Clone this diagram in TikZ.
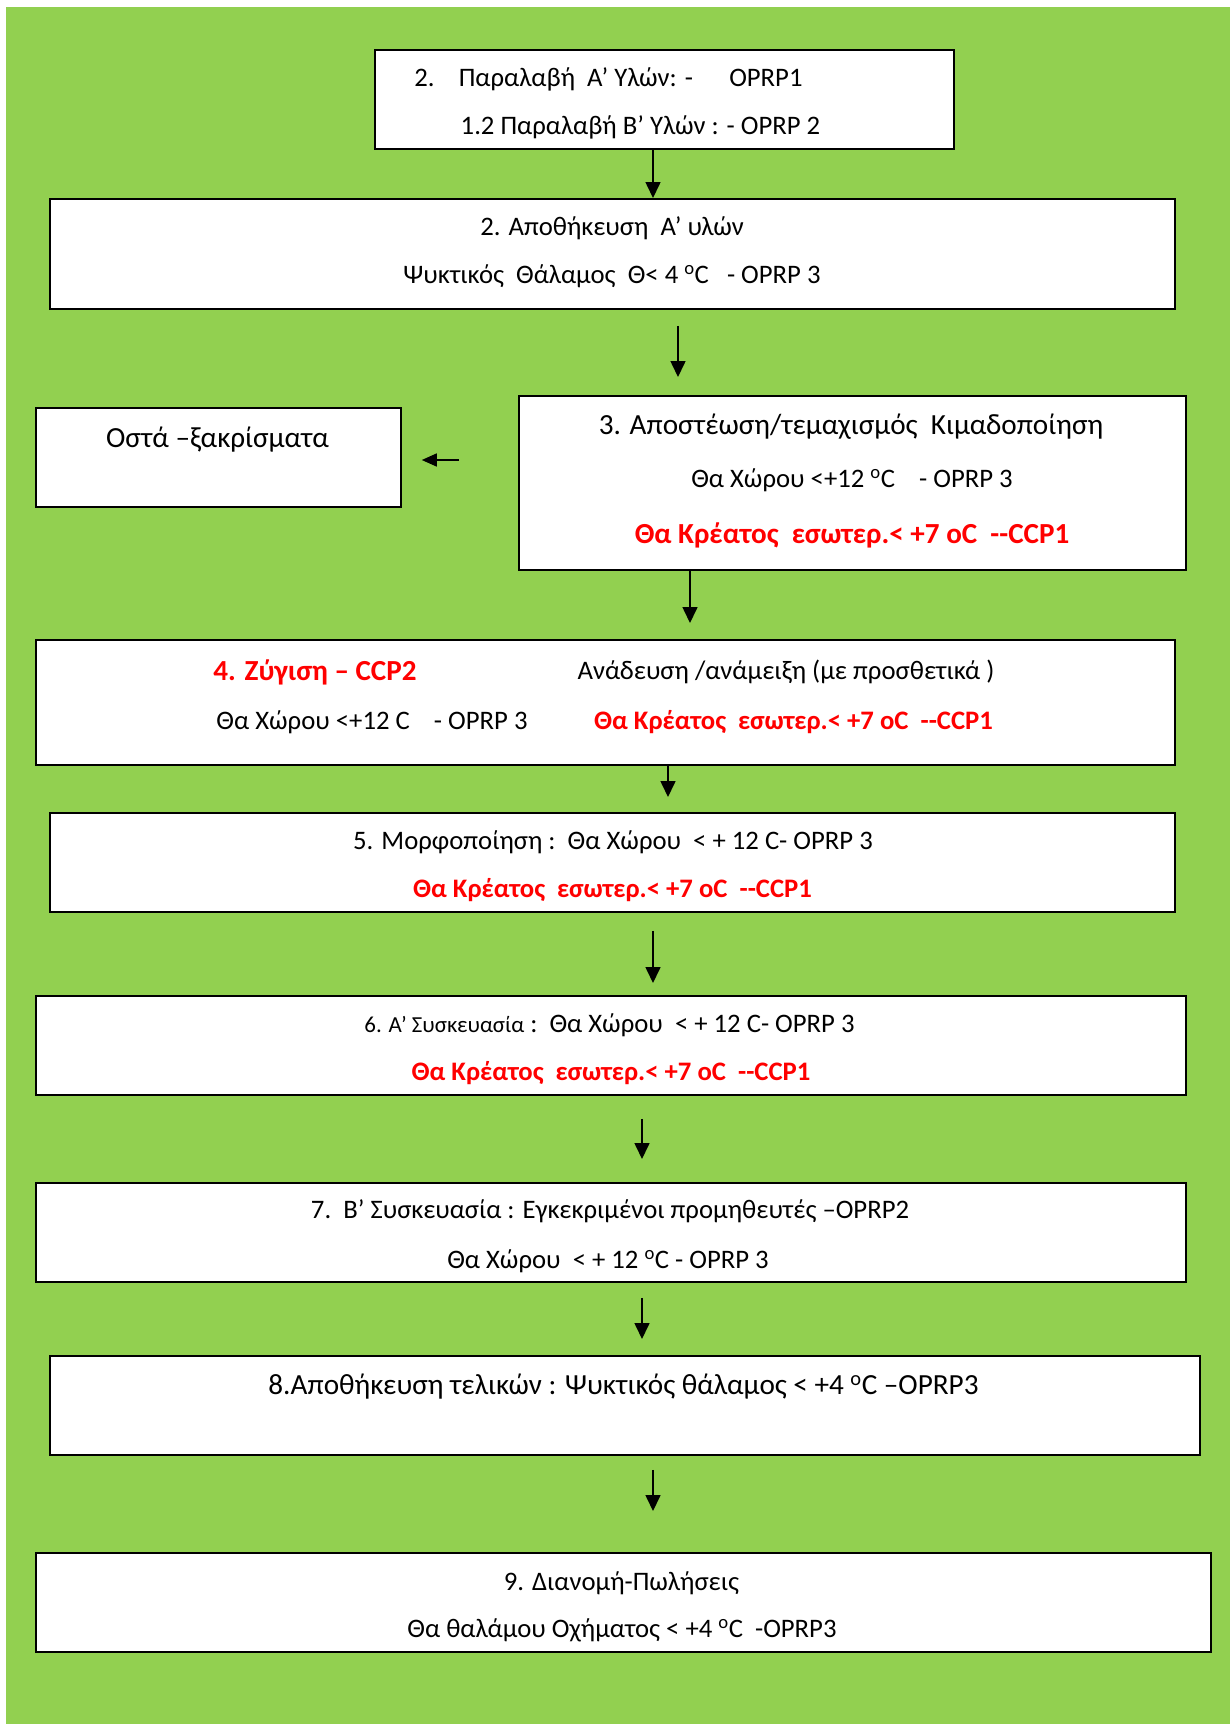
\documentclass[tikz,border=0pt]{standalone}
\usepackage{fontspec}
\setmainfont{Carlito}
\usetikzlibrary{arrows.meta}
\definecolor{bggreen}{HTML}{92D050}
\definecolor{ccpred}{HTML}{FF0000}
\newcommand{\nrm}{\fontsize{26.8}{31}\selectfont}
\newcommand{\bigf}{\fontsize{29.3}{34}\selectfont}
\newcommand{\smf}{\fontsize{23}{27}\selectfont}
\newcommand{\redf}{\fontsize{26.8}{31}\selectfont\bfseries\color{ccpred}}
\newcommand{\redbig}{\fontsize{29.2}{34}\selectfont\bfseries\color{ccpred}}
\newcommand{\dg}{\textsuperscript{o}}
\begin{document}
\begin{tikzpicture}[x=1bp,y=-1bp,
  box/.style={draw=black,line width=1.8bp,fill=white,anchor=north west,inner sep=0pt},
  txt/.style={inner sep=0pt,font=\nrm},
  arr/.style={draw=black,line width=1.6bp,-{Triangle[width=15bp,length=16bp]}}]
\useasboundingbox (0,0) rectangle (1230,1724);
\fill[white] (0,0) rectangle (1230,1724);
\fill[bggreen] (6,7) rectangle (1230,1724);
% boxes
\node[box,minimum width=579bp,minimum height=99bp] (b1) at (374,49) {};
\node[box,minimum width=1125bp,minimum height=110bp] (b2) at (49,198) {};
\node[box,minimum width=365bp,minimum height=99bp] (bo) at (35,407) {};
\node[box,minimum width=667bp,minimum height=174bp] (b3) at (518,395) {};
\node[box,minimum width=1139bp,minimum height=125bp] (b4) at (35,639) {};
\node[box,minimum width=1125bp,minimum height=99bp] (b5) at (49,812) {};
\node[box,minimum width=1150bp,minimum height=99bp] (b6) at (35,995) {};
\node[box,minimum width=1150bp,minimum height=99bp] (b7) at (35,1182) {};
\node[box,minimum width=1150bp,minimum height=99bp] (b8) at (49,1355) {};
\node[box,minimum width=1175bp,minimum height=99bp] (b9) at (35,1552) {};
% texts
\node[txt] (t1a) at (608.5,79) {2.\ \ \ \ Παραλαβή\ \ Α’ Υλών: -\ \ \ \ \ \ OPRP1};
\node[txt] (t1b) at (640.5,127) {1.2 Παραλαβή Β’ Υλών : - OPRP 2};
\node[txt] (t2a) at (612,228) {2. Αποθήκευση\ \ Α’ υλών};
\node[txt] (t2b) at (612,276) {Ψυκτικός\ \ Θάλαμος\ \ Θ< 4 \dg C\ \ \ - OPRP 3};
\node[txt,font=\bigf] (to) at (217.5,440) {Οστά –ξακρίσματα};
\node[txt,font=\bigf] (t3a) at (851,427) {3. Αποστέωση/τεμαχισμός\ \ Κιμαδοποίηση};
\node[txt] (t3b) at (852,480) {Θα Χώρου <+12 \dg C\ \ \ \ - OPRP 3};
\node[txt,font=\redbig] (t3c) at (852,535) {Θα Κρέατος\ \ εσωτερ.< +7 oC\ \ -{}-CCP1};
\node[txt,font=\redbig] (t4a) at (315,672) {4. Ζύγιση – CCP2};
\node[txt] (t4b) at (786,672) {Ανάδευση /ανάμειξη (με προσθετικά )};
\node[txt] (t4c) at (372,722) {Θα Χώρου <+12 C\ \ \ \ - OPRP 3};
\node[txt,font=\redf] (t4d) at (793.5,722) {Θα Κρέατος\ \ εσωτερ.< +7 oC\ \ -{}-CCP1};
\node[txt] (t5a) at (613,842) {5. Μορφοποίηση :\ \ Θα Χώρου\ \ < + 12 C- OPRP 3};
\node[txt,font=\redf] (t5b) at (612.5,890) {Θα Κρέατος\ \ εσωτερ.< +7 oC\ \ -{}-CCP1};
\node[txt] (t6a) at (609.5,1025) {{\smf 6. Α’ Συσκευασία} :\ \ Θα Χώρου\ \ < + 12 C- OPRP 3};
\node[txt,font=\redf] (t6b) at (611,1073) {Θα Κρέατος\ \ εσωτερ.< +7 oC\ \ -{}-CCP1};
\node[txt] (t7a) at (610,1211) {7.\ \ Β’ Συσκευασία : Εγκεκριμένοι προμηθευτές –OPRP2};
\node[txt] (t7b) at (608,1261) {Θα Χώρου\ \ < + 12 \dg C - OPRP 3};
\node[txt,font=\bigf] (t8) at (623.5,1387) {8.Αποθήκευση τελικών : Ψυκτικός θάλαμος < +4 \dg C –OPRP3};
\node[txt] (t9a) at (621.5,1583) {9. Διανομή-Πωλήσεις};
\node[txt] (t9b) at (622,1630) {Θα θαλάμου Οχήματος < +4 \dg C\ \ -OPRP3};
% arrow x positions
\coordinate (x12) at (653,0);
\coordinate (x23) at (678,0);
\coordinate (x34) at (690,0);
\coordinate (x45) at (668,0);
\coordinate (x56) at (653,0);
\coordinate (x67) at (642,0);
\coordinate (x78) at (642,0);
\coordinate (x89) at (653,0);
\coordinate (yl) at (0,460);
% connectors
\draw[arr] (b1.south -| x12) -- (b2.north -| x12);
\draw[arr,shorten <=16bp,shorten >=18bp] (b2.south -| x23) -- (b3.north -| x23);
\draw[arr,shorten >=16bp] (b3.south -| x34) -- (b4.north -| x34);
\draw[arr,shorten >=15bp] (b4.south -| x45) -- (b5.north -| x45);
\draw[arr,shorten <=18bp,shorten >=12bp] (b5.south -| x56) -- (b6.north -| x56);
\draw[arr,shorten <=23bp,shorten >=23bp] (b6.south -| x67) -- (b7.north -| x67);
\draw[arr,shorten <=15bp,shorten >=16bp] (b7.south -| x78) -- (b8.north -| x78);
\draw[arr,shorten <=14bp,shorten >=41bp] (b8.south -| x89) -- (b9.north -| x89);
\draw[arr,-{Triangle[width=13bp,length=15bp]},shorten <=59bp,shorten >=20bp] (b3.west |- yl) -- (bo.east |- yl);
\end{tikzpicture}
\end{document}
